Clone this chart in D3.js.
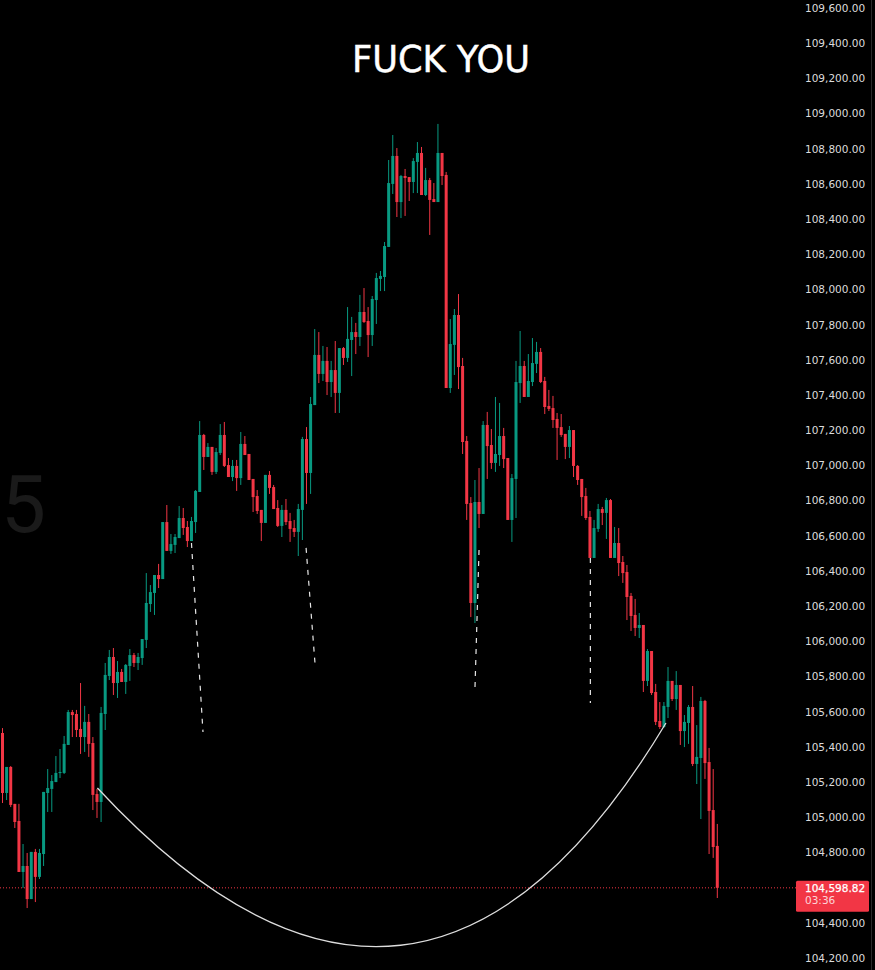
<!DOCTYPE html>
<html><head><meta charset="utf-8">
<script src="https://cdn.jsdelivr.net/npm/d3@7"></script>
<style>html,body{margin:0;padding:0;background:#000;overflow:hidden}</style>
</head><body><svg id="c" width="875" height="970"></svg>
<script>
const opens=[105479,105138,105286,105076,104979,104689,104723,104535,104803,104661,
104791,105138,105161,105200,105252,105252,105411,105598,105587,105502,
105456,105542,105422,105132,105087,105587,105803,105911,105763,105826,
105769,105860,105922,105877,105905,106008,106212,106275,106377,106354,
106678,106514,106548,106587,106701,106650,106570,106678,106849,107173,
107048,107105,106963,107071,107173,107002,106934,106997,106928,107122,
107065,106923,106826,106747,106673,106946,106877,106758,106656,106747,
106684,106644,106622,106747,107150,106957,107343,107628,107520,107594,
107474,107542,107412,107667,107611,107713,107758,107730,107872,107821,
107741,107940,108060,108071,108242,108600,108759,108497,108645,108639,
108611,108725,108776,108537,108622,108514,108497,108776,108651,107440,
107685,107855,107565,107139,106786,106218,106792,106724,107230,107116,
107014,107059,107167,107042,106690,106923,107468,107565,107389,107474,
107577,107645,107480,107338,107326,107264,107218,107179,107105,107201,
106997,106923,106826,106707,106474,106639,106752,106730,106803,106474,
106559,106451,106394,106258,106150,106076,106093,105775,105945,105712,
105547,105513,105627,105775,105672,105752,105490,105536,105627,105303,
105337,105661,105314,105041,104837];
const highs=[105507,105286,105291,105076,105076,104848,104797,104803,104820,104820,
105144,105274,105240,105348,105388,105462,105610,105610,105610,105763,
105633,105587,105456,105161,105627,105877,105951,105962,105888,105843,
105871,105956,105934,105934,106013,106388,106320,106377,106440,106678,
106775,106610,106610,106769,106758,106684,106707,106860,107252,107179,
107127,107105,107099,107235,107247,107042,107031,107031,107190,107167,
107065,106923,106860,106747,106946,106968,106889,106803,106775,106809,
106730,106690,106781,107162,107218,107389,107775,107758,107679,107673,
107594,107707,107667,107673,107900,107844,107810,107969,108008,107900,
107963,108094,108105,108270,108736,108878,108804,108651,108685,108639,
108747,108838,108810,108691,108634,108605,108941,108776,108668,107832,
107889,107974,107611,107167,106820,106917,106985,107252,107304,107207,
107389,107355,107213,107042,106951,107594,107764,107594,107633,107724,
107702,107667,107503,107429,107395,107298,107292,107179,107224,107201,
107002,106923,106872,106741,106690,106781,106764,106815,106809,106650,
106644,106485,106434,106275,106241,106161,106093,105956,105945,105758,
105655,105655,105854,105775,105831,105752,105581,105638,105746,105524,
105684,105667,105394,105274,104962];
const lows=[105081,105098,105058,104939,104689,104598,104484,104535,104518,104649,
104723,105030,105030,105200,105223,105246,105411,105456,105456,105360,
105371,105343,105041,104996,104973,105496,105780,105695,105678,105769,
105701,105775,105854,105837,105866,105962,106167,106150,106303,106354,
106514,106497,106502,106587,106605,106536,106570,106616,106849,106974,
107048,106946,106951,107059,106991,106934,106911,106855,106889,107059,
106917,106735,106724,106570,106673,106838,106752,106650,106593,106661,
106565,106593,106485,106576,106781,106838,107343,107468,107480,107400,
107389,107298,107298,107571,107588,107508,107633,107679,107810,107616,
107679,107804,107991,107991,108242,108543,108412,108406,108418,108503,
108548,108548,108537,108531,108310,108497,108497,108594,107440,107412,
107514,107434,107065,106690,106138,106104,106644,106724,106923,106980,
106963,106997,106985,106690,106565,106701,107355,107389,107389,107451,
107525,107468,107292,107309,107213,107031,107162,107036,107042,106934,
106889,106713,106690,106474,106474,106622,106661,106582,106474,106474,
106371,106332,106121,106059,106030,106019,105712,105746,105695,105524,
105502,105507,105564,105661,105610,105411,105399,105417,105291,105189,
104990,105218,104791,104769,104541];
const closes=[105138,105286,105070,104973,104689,104723,104535,104803,104661,104797,
105144,105166,105206,105252,105257,105417,105598,105581,105496,105456,
105542,105417,105127,105087,105593,105809,105911,105763,105826,105769,
105866,105922,105877,105911,106013,106218,106280,106377,106354,106678,
106514,106553,106593,106701,106644,106570,106684,106855,107173,107048,
107105,106963,107076,107173,106997,106934,106997,106928,107122,107059,
106917,106820,106741,106673,106946,106872,106752,106656,106747,106678,
106639,106622,106752,107150,106957,107349,107628,107520,107594,107474,
107542,107412,107667,107611,107719,107758,107730,107872,107815,107741,
107946,108065,108077,108247,108605,108759,108497,108645,108634,108611,
108730,108776,108537,108622,108509,108497,108776,108645,107440,107690,
107855,107559,107133,106781,106218,106792,106724,107230,107110,107014,
107065,107167,107036,106690,106928,107474,107565,107389,107480,107582,
107645,107474,107332,107321,107258,107213,107173,107105,107201,106997,
106917,106820,106701,106474,106644,106752,106730,106803,106474,106559,
106445,106388,106252,106144,106076,106093,105775,105945,105706,105542,
105513,105633,105775,105672,105752,105490,105542,105627,105303,105343,
105661,105308,105036,104831,104598.82];
const yTicks=d3.range(104200,109601,200);
const lastPrice=104598.82;
const countdown="03:36";
const title="FUCK YOU";
const watermark="5";
// annotations in data units: [index1, price1, index2, price2]
const dashLines=[[46.0,106559,48.8,105485],[73.9,106531,76.1,105866],[116.0,106519,115.0,105724],[143.1,106474,143.1,105650]];
// quadratic arc: start, control, end as [index, price]
const arcPts=[[23.1,105166],[101.5,103194],[161.5,105536]];

const UP="#089981", DOWN="#F23645";
const svg=d3.select("#c");
svg.append("rect").attr("width",875).attr("height",970).attr("fill","#000");
const n=opens.length;
const x=d3.scaleLinear().domain([0,n-1]).range([2.5,717.3]);
const y=d3.scaleLinear().domain([104200,109600]).range([958,8]);

// watermark
svg.append("text").attr("x",1).attr("y",532).text(watermark)
  .attr("font-family","Roboto, 'DejaVu Sans', sans-serif").attr("font-size",80)
  .attr("fill","#1a1a1a");

// last price dotted line
svg.append("line").attr("x1",0).attr("x2",796).attr("y1",y(lastPrice)).attr("y2",y(lastPrice))
  .attr("stroke",DOWN).attr("stroke-width",1).attr("stroke-dasharray","1,2");

// candles
const data=d3.range(n).map(i=>({i,o:opens[i],h:highs[i],l:lows[i],c:closes[i]}));
const g=svg.append("g");
const cg=g.selectAll("g.c").data(data).join("g");
cg.append("line")
  .attr("x1",d=>x(d.i)).attr("x2",d=>x(d.i))
  .attr("y1",d=>y(d.h)).attr("y2",d=>y(d.l))
  .attr("stroke",d=>d.c>=d.o?UP:DOWN).attr("stroke-width",1);
cg.append("rect")
  .attr("x",d=>x(d.i)-1.5).attr("width",3)
  .attr("y",d=>y(Math.max(d.o,d.c)))
  .attr("height",d=>Math.max(1,y(Math.min(d.o,d.c))-y(Math.max(d.o,d.c))))
  .attr("fill",d=>d.c>=d.o?UP:DOWN);

// dashed annotation lines
svg.append("g").selectAll("line").data(dashLines).join("line")
  .attr("x1",d=>x(d[0])).attr("y1",d=>y(d[1])).attr("x2",d=>x(d[2])).attr("y2",d=>y(d[3]))
  .attr("stroke","#e6e6e6").attr("stroke-width",1.2).attr("stroke-dasharray","5,6");

// arc
const p=d3.path();
p.moveTo(x(arcPts[0][0]),y(arcPts[0][1]));
p.quadraticCurveTo(x(arcPts[1][0]),y(arcPts[1][1]),x(arcPts[2][0]),y(arcPts[2][1]));
svg.append("path").attr("d",p.toString()).attr("fill","none").attr("stroke","#dedede").attr("stroke-width",1.3);

// title
svg.append("text").attr("x",441).attr("y",72).attr("text-anchor","middle").text(title)
  .attr("font-family","'DejaVu Sans', sans-serif").attr("font-size",38)
  .attr("textLength",178).attr("lengthAdjust","spacingAndGlyphs").attr("fill","#fff")
  .attr("stroke","#fff").attr("stroke-width",0.5);

// y axis (the tick hidden under the last-price box is left out)
const shownTicks=yTicks.filter(t=>Math.abs(y(t)-y(lastPrice))>16);
const ax=svg.append("g").attr("transform","translate(802,0)")
  .call(d3.axisRight(y).tickValues(shownTicks).tickFormat(d3.format(",.2f")).tickSize(0).tickPadding(3));
ax.select(".domain").remove();
ax.selectAll("text").attr("font-family","'DejaVu Sans', sans-serif").attr("font-size",10.5).attr("fill","#dcdcdc");
svg.append("line").attr("x1",871.5).attr("x2",871.5).attr("y1",0).attr("y2",970).attr("stroke","#2a2a2a");

// price box
const by=y(lastPrice);
svg.append("rect").attr("x",796).attr("y",by-7).attr("width",73).attr("height",31).attr("rx",1.5).attr("fill",DOWN);
svg.append("text").attr("x",805).attr("y",by+1).attr("dominant-baseline","middle").text(d3.format(",.2f")(lastPrice))
  .attr("font-family","'DejaVu Sans', sans-serif").attr("font-size",10.5).attr("fill","#fff")
  .attr("stroke","#fff").attr("stroke-width",0.25);
svg.append("text").attr("x",805).attr("y",by+13.5).attr("dominant-baseline","middle").text(countdown)
  .attr("font-family","'DejaVu Sans', sans-serif").attr("font-size",10.5).attr("fill","rgba(255,255,255,0.8)");
</script></body></html>
